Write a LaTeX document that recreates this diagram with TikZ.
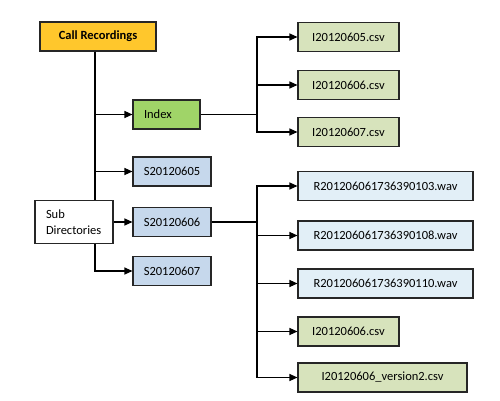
\documentclass[tikz,border=0pt]{standalone}
\usepackage{fontspec}
\setmainfont{Carlito}
\usepackage{tikz}
\usetikzlibrary{arrows.meta}

\definecolor{recfill}{RGB}{255,199,44}
\definecolor{idxfill}{RGB}{160,212,104}
\definecolor{dirfill}{RGB}{198,216,236}
\definecolor{wavfill}{RGB}{226,239,247}
\definecolor{csvfill}{RGB}{215,227,188}

\tikzset{
  box/.style={draw=black!85, line width=1.1pt, minimum height=29pt, inner sep=0pt, font=\fontsize{12.5}{14}\selectfont},
  link/.style={line width=1.1pt, ->}
}

\begin{document}
\begin{tikzpicture}[x=1pt, y=-1pt, >={Triangle[length=8pt,width=7pt]}]
\useasboundingbox (0,0) rectangle (500,401);

\node[box, fill=recfill, minimum width=116pt, font=\fontsize{12.5}{14}\selectfont\bfseries] (rec) at (98,36.5) {Call Recordings};

\node[box, fill=idxfill, minimum width=67pt, text width=45pt, align=left] (idx) at (166.5,114.5) {Index};
\node[box, fill=dirfill, minimum width=78pt] (s05) at (172,171.5) {S20120605};
\node[box, fill=white, minimum width=78pt, minimum height=43pt, text width=56pt, align=left, font=\fontsize{12.5}{15.5}\selectfont] (sub) at (74,222) {Sub\\Directories};
\node[box, fill=dirfill, minimum width=78pt] (s06) at (172,222) {S20120606};
\node[box, fill=dirfill, minimum width=78pt] (s07) at (172,271) {S20120607};

\node[box, fill=csvfill, minimum width=101pt] (i05) at (348.5,37) {I20120605.csv};
\node[box, fill=csvfill, minimum width=101pt] (i06) at (348.5,85) {I20120606.csv};
\node[box, fill=csvfill, minimum width=101pt] (i07) at (348.5,132) {I20120607.csv};

\node[box, fill=wavfill, minimum width=175pt] (r03) at (385.5,186) {R201206061736390103.wav};
\node[box, fill=wavfill, minimum width=175pt] (r08) at (385.5,235.5) {R201206061736390108.wav};
\node[box, fill=wavfill, minimum width=175pt] (r10) at (385.5,283.5) {R201206061736390110.wav};
\node[box, fill=csvfill, minimum width=101pt] (i06b) at (348.5,331.5) {I20120606.csv};
\node[box, fill=csvfill, minimum width=169pt] (v2) at (382.5,377.5) {I20120606\_version2.csv};

\coordinate (trunk) at (95,0);
\coordinate (bus) at (257,0);

% left tree
\draw[link, -] (rec.south -| trunk) -- (sub.north -| trunk);
\draw[link] (rec.south -| trunk) |- (idx.west);
\draw[link] (rec.south -| trunk) |- (s05.west);
\draw[link] (sub.east) -- (s06.west);
\draw[link] (sub.south -| trunk) |- (s07.west);

% index files
\draw[link, -] (idx.east) -- (idx.east -| bus);
\draw[link] (idx.east -| bus) |- (i05.west);
\draw[link] (idx.east -| bus) |- (i06.west);
\draw[link] (idx.east -| bus) |- (i07.west);

% recordings of S20120606
\draw[link, -] (s06.east) -- (s06.east -| bus);
\draw[link] (s06.east -| bus) |- (r03.west);
\draw[link] (s06.east -| bus) |- (r08.west);
\draw[link] (s06.east -| bus) |- (r10.west);
\draw[link] (s06.east -| bus) |- (i06b.west);
\draw[link] (s06.east -| bus) |- (v2.west);

\end{tikzpicture}
\end{document}
